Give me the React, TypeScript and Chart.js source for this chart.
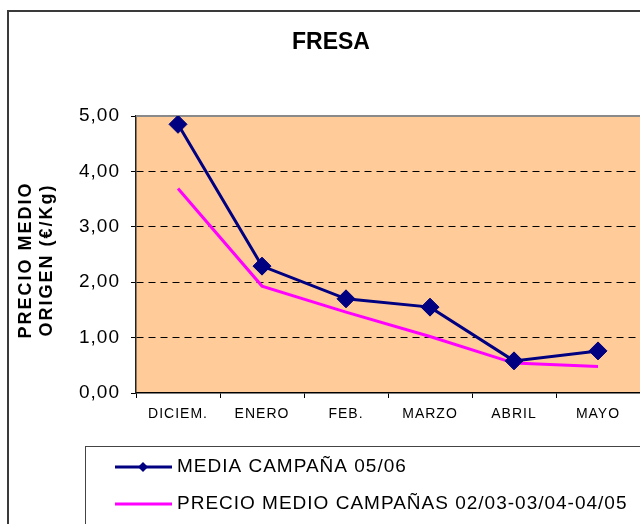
import React, { useEffect, useRef } from "react";
import { Chart, registerables } from "chart.js";

Chart.register(...registerables);

const chartTitle = "FRESA";
const categories = ["DICIEM.", "ENERO", "FEB.", "MARZO", "ABRIL", "MAYO"];
const mediaCampana = [4.85, 2.29, 1.7, 1.55, 0.58, 0.76];
const precioMedio = [3.69, 1.93, 1.46, 1.02, 0.54, 0.48];
const seriesNames = ["MEDIA CAMPAÑA 05/06", "PRECIO MEDIO CAMPAÑAS 02/03-03/04-04/05"];
const yTickLabels = ["0,00", "1,00", "2,00", "3,00", "4,00", "5,00"];
const yTitleLines = ["PRECIO MEDIO", "ORIGEN (€/Kg)"];

const FONT = "'Liberation Sans', Arial, sans-serif";

const decorPlugin = {
  id: "decor",
  beforeDraw(chart: any) {
    const { ctx, chartArea } = chart;
    ctx.save();
    ctx.fillStyle = "#ffffff";
    ctx.fillRect(0, 0, chart.width, chart.height);
    // plot background
    ctx.fillStyle = "#FFCC99";
    ctx.fillRect(chartArea.left, chartArea.top, chartArea.right - chartArea.left, chartArea.bottom - chartArea.top);
    // outer border
    ctx.strokeStyle = "#3a3a3a";
    ctx.lineWidth = 2;
    ctx.strokeRect(8, 11, 700, 600);
    // title
    ctx.fillStyle = "#000";
    ctx.font = `bold 23px ${FONT}`;
    ctx.textAlign = "center";
    ctx.textBaseline = "middle";
    ctx.fillText(chartTitle, 331, 43);
    // y title
    ctx.save();
    ctx.translate(0, 260);
    ctx.rotate(-Math.PI / 2);
    (ctx as any).letterSpacing = "2px";
    ctx.font = `bold 18px ${FONT}`;
    ctx.textAlign = "center";
    ctx.textBaseline = "middle";
    ctx.fillText(yTitleLines[0], 0, 26);
    ctx.fillText(yTitleLines[1], 0, 47);
    ctx.restore();
    ctx.restore();
    (ctx as any).letterSpacing = "1px";
  },
  beforeDatasetsDraw(chart: any) {
    const { ctx, chartArea } = chart;
    ctx.save();
    ctx.strokeStyle = "#8a8a8a";
    ctx.lineWidth = 2;
    ctx.beginPath();
    ctx.moveTo(chartArea.left, chartArea.top);
    ctx.lineTo(chartArea.right, chartArea.top);
    ctx.stroke();
    ctx.restore();
  },
  afterDraw(chart: any) {
    const { ctx } = chart;
    ctx.save();
    // legend box
    ctx.strokeStyle = "#444";
    ctx.lineWidth = 1;
    ctx.strokeRect(85.5, 446.5, 700, 200);
    const rows = [467, 504];
    chart.data.datasets.forEach((ds: any, i: number) => {
      const y = rows[i];
      ctx.strokeStyle = ds.borderColor;
      ctx.lineWidth = 3;
      ctx.beginPath();
      ctx.moveTo(115, y);
      ctx.lineTo(172, y);
      ctx.stroke();
      if (ds.pointRadius > 0) {
        ctx.fillStyle = ds.borderColor;
        ctx.beginPath();
        const r = 5;
        ctx.moveTo(143, y - r);
        ctx.lineTo(143 + r, y);
        ctx.lineTo(143, y + r);
        ctx.lineTo(143 - r, y);
        ctx.closePath();
        ctx.fill();
      }
      ctx.fillStyle = "#000";
      (ctx as any).letterSpacing = "1px";
      ctx.font = `19px ${FONT}`;
      ctx.textAlign = "left";
      ctx.textBaseline = "middle";
      ctx.fillText(ds.label, 177, y);
    });
    ctx.restore();
    (ctx as any).letterSpacing = "0px";
  },
};

export default function App() {
  const ref = useRef<HTMLCanvasElement | null>(null);
  useEffect(() => {
    if (!ref.current) return;
    const chart = new Chart(ref.current, {
      type: "line",
      data: {
        labels: categories,
        datasets: [
          {
            label: seriesNames[0],
            data: mediaCampana,
            borderColor: "#000080",
            backgroundColor: "#000080",
            borderWidth: 3,
            pointStyle: "rectRot",
            pointRadius: 9,
            pointBackgroundColor: "#000080",
            pointBorderColor: "#000080",
            pointBorderWidth: 1,
            tension: 0,
          },
          {
            label: seriesNames[1],
            data: precioMedio,
            borderColor: "#FF00FF",
            backgroundColor: "#FF00FF",
            borderWidth: 3,
            pointRadius: 0,
            tension: 0,
          },
        ],
      },
      options: {
        responsive: false,
        animation: false,
        devicePixelRatio: 1,
        layout: { padding: { top: 116, left: 0, right: 0, bottom: 0 } },
        plugins: { legend: { display: false }, title: { display: false }, tooltip: { enabled: false } },
        scales: {
          x: {
            offset: true,
            grid: { drawOnChartArea: false, drawTicks: true, tickLength: 5, color: "#000", offset: true },
            border: { color: "#000", width: 1.5 },
            ticks: { color: "#000", font: { family: FONT, size: 14 }, padding: 8, maxRotation: 0, autoSkip: false },
            afterFit(scale: any) {
              scale.height = 131;
              scale.paddingLeft = 0;
              scale.paddingRight = 0;
            },
          },
          y: {
            min: 0,
            max: 5,
            ticks: {
              stepSize: 1,
              color: "#000",
              font: { family: FONT, size: 19 },
              padding: 11,
              callback: (_v: any, i: number) => yTickLabels[i],
            },
            grid: {
              color: (c: any) => (c.tick && (c.tick.value === 0 || c.tick.value === 5) ? "rgba(0,0,0,0)" : "#000"),
              tickColor: "#000",
              tickLength: 5,
              lineWidth: 1,
              tickBorderDash: [],
            },
            border: { color: "#222", width: 1.5, dash: [7, 5] },
            afterFit(scale: any) {
              scale.width = 136;
              scale.paddingTop = 0;
              scale.paddingBottom = 0;
            },
          },
        },
      },
      plugins: [decorPlugin],
    });
    return () => chart.destroy();
  }, []);
  return (
    <div style={{ position: "fixed", left: 0, top: 0, width: 640, height: 524, overflow: "hidden", background: "#fff" }}>
      <canvas ref={ref} width={650} height={524} style={{ display: "block" }} />
    </div>
  );
}
